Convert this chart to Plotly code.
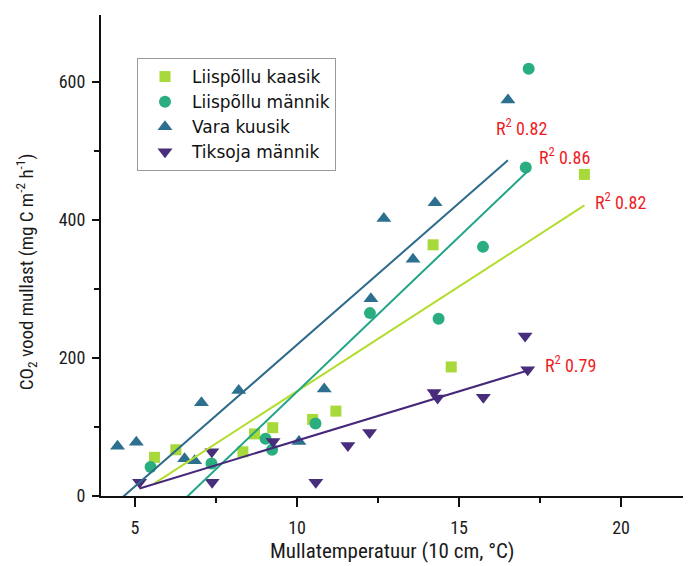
import plotly.graph_objects as go

# ---- data ----
series_names = ["Liispõllu kaasik", "Liispõllu männik", "Vara kuusik", "Tiksoja männik"]

kaasik_x = [5.60, 6.26, 8.33, 8.69, 9.25, 10.48, 11.20, 14.20, 14.76, 18.87]
kaasik_y = [56, 67, 64, 90, 99, 111, 123, 364, 187, 466]

mannik_x = [5.48, 7.36, 9.03, 9.23, 10.57, 12.25, 14.37, 15.74, 17.06, 17.15]
mannik_y = [42, 47, 83, 67, 105, 265, 257, 361, 476, 619]

vara_x = [4.46, 5.04, 6.53, 6.84, 7.05, 8.20, 10.06, 10.84, 12.28, 12.68, 13.58, 14.26, 16.51]
vara_y = [72, 78, 54, 51, 135, 153, 79, 155, 286, 402, 343, 425, 574]

tiksoja_x = [5.14, 7.37, 7.38, 9.26, 10.58, 11.57, 12.24, 14.23, 14.34, 15.75, 17.04, 17.12]
tiksoja_y = [20, 64, 20, 79, 20, 73, 92, 150, 142, 143, 232, 183]

# linear fits (slope, intercept) as drawn in the reference
fit_slope = [30.34, 44.87, 41.04, 14.27]
fit_intercept = [-151.5, -297.5, -191.2, -62.4]
r2_text = ["R<sup>2</sup> 0.82", "R<sup>2</sup> 0.86", "R<sup>2</sup> 0.82", "R<sup>2</sup> 0.79"]
r2_pos_x = [19.15, 17.40, 16.08, 17.60]
r2_pos_y = [427, 493, 535, 191]

x_ticks = [5, 10, 15, 20]
y_ticks = [0, 200, 400, 600]

# ---- styling ----
marker_colors = ["#a8d93a", "#2aae80", "#2c6f8e", "#472d7b"]
line_colors = ["#b3dd2e", "#22a587", "#2d6a8a", "#46287a"]
symbols = ["square", "circle", "triangle-up", "triangle-down"]
sizes = [11, 12, 13, 13]
cond_font = "Liberation Sans Narrow, Roboto Condensed, DejaVu Sans Condensed, sans-serif"

xs = [kaasik_x, mannik_x, vara_x, tiksoja_x]
ys = [kaasik_y, mannik_y, vara_y, tiksoja_y]

fig = go.Figure()

for i in range(4):
    fig.add_trace(go.Scatter(
        x=xs[i], y=ys[i], mode="markers", name=series_names[i],
        marker=dict(symbol=symbols[i], size=sizes[i], color=marker_colors[i], line=dict(width=0)),
        showlegend=True,
    ))

for i in range(4):
    x0, x1 = min(xs[i]), max(xs[i])
    fig.add_trace(go.Scatter(
        x=[x0, x1], y=[fit_slope[i] * x0 + fit_intercept[i], fit_slope[i] * x1 + fit_intercept[i]],
        mode="lines", line=dict(color=line_colors[i], width=2), showlegend=False, hoverinfo="skip",
    ))

annotations = []
for i in range(4):
    annotations.append(dict(
        x=r2_pos_x[i], y=r2_pos_y[i], xref="x", yref="y", text=r2_text[i], showarrow=False,
        xanchor="left", yanchor="middle", font=dict(family=cond_font, size=18, color="#ee1c25"),
    ))

annotations.append(dict(
    x=0.4932, y=-0.114, xref="paper", yref="paper", text="Mullatemperatuur (10 cm, °C)",
    showarrow=False, xanchor="center", yanchor="middle",
    font=dict(family=cond_font, size=21, color="#1a1a1a"),
))
annotations.append(dict(
    x=-0.125, y=0.4657, xref="paper", yref="paper",
    text="CO<sub>2</sub> vood mullast (mg C m<sup>-2</sup> h<sup>-1</sup>)",
    showarrow=False, xanchor="center", yanchor="middle", textangle=-90,
    font=dict(family=cond_font, size=19, color="#1a1a1a"),
))

# the page body adds an 8px offset, so the figure is 8px smaller and margins shifted
fig.update_layout(
    width=683, height=558,
    margin=dict(l=93, r=0, t=7, b=70),
    paper_bgcolor="white", plot_bgcolor="white",
    showlegend=True,
    legend=dict(
        x=0.061, y=0.9106, xanchor="left", yanchor="top",
        bgcolor="white", bordercolor="#9a9a9a", borderwidth=1,
        font=dict(family="DejaVu Sans, Liberation Sans, sans-serif", size=17, color="#111111"),
        itemwidth=44,
    ),
    annotations=annotations,
)

fig.update_xaxes(
    range=[3.95, 22.16], tickvals=x_ticks, ticktext=[str(v) for v in x_ticks],
    showgrid=False, zeroline=False, showline=True, linecolor="#111111", linewidth=2,
    ticks="outside", ticklen=9, tickwidth=1.5, tickcolor="#111111",
    tickfont=dict(family=cond_font, size=18, color="#1a1a1a"),
    minor=dict(tickvals=[7.5, 12.5, 17.5], ticks="outside", ticklen=5, tickwidth=1.5, tickcolor="#111111"),
    ticklabelstandoff=5,
)
fig.update_yaxes(
    range=[0, 697], tickvals=y_ticks, ticktext=[str(v) for v in y_ticks],
    showgrid=False, zeroline=False, showline=True, linecolor="#111111", linewidth=2,
    ticks="outside", ticklen=7, tickwidth=1.5, tickcolor="#111111",
    tickfont=dict(family=cond_font, size=18, color="#1a1a1a"),
    minor=dict(tickvals=[100, 300, 500], ticks="outside", ticklen=5, tickwidth=1.5, tickcolor="#111111"),
    ticklabelstandoff=3,
)

fig.write_html("out.html")
